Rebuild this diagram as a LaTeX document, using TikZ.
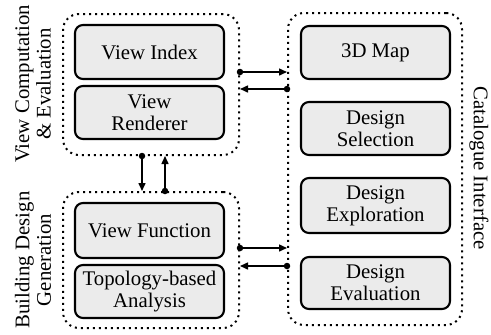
\documentclass[tikz,border=0pt]{standalone}
\usepackage{fontspec}
\setmainfont{Liberation Serif}
\usetikzlibrary{arrows.meta}
\definecolor{boxfill}{HTML}{EBEBEB}
\begin{document}
\begin{tikzpicture}[x=1pt,y=-1pt,
  module/.style={draw=black, line width=2.1pt, fill=boxfill, rounded corners=8pt,
    minimum width=149pt, align=center, inner sep=0pt,
    font=\fontsize{20.8}{22}\selectfont},
  group/.style={draw=black, line width=2pt, dash pattern=on 2pt off 4pt,
    rounded corners=16pt, inner sep=0pt},
  grouplabel/.style={align=center, font=\fontsize{20.8}{21.5}\selectfont},
  link/.style={line width=1.5pt, -{Triangle[length=8pt,width=7pt]}},
  dot/.style={circle, fill=black, inner sep=0pt, minimum size=6.5pt}
]
\useasboundingbox (0,0) rectangle (491,335);

% groups (dotted frames)
\node[group, minimum width=176pt, minimum height=141pt] (gview) at (151,84.5) {};
\node[group, minimum width=176pt, minimum height=136pt] (gbuild) at (151,260) {};
\node[group, minimum width=174pt, minimum height=312pt] (gcat) at (375,169) {};

% modules
\node[module, minimum height=54pt] (vindex) at (149.5,52) {View Index};
\node[module, minimum height=53pt] (vrender) at (149.5,112.5) {View\\Renderer};
\node[module, minimum height=55pt] (vfunc) at (149.5,230.5) {View Function};
\node[module, minimum height=53pt] (topo) at (149.5,291.5) {Topology-based\\Analysis};
\node[module, minimum height=53pt] (map) at (375.5,52.5) {3D Map};
\node[module, minimum height=53pt] (dsel) at (375.5,128.5) {Design\\Selection};
\node[module, minimum height=55pt] (dexp) at (375.5,205.5) {Design\\Exploration};
\node[module, minimum height=52pt] (deval) at (375.5,283) {Design\\Evaluation};

% group labels
\node[grouplabel, rotate=90] (lview) at (33,84) {View Computation\\\& Evaluation};
\node[grouplabel, rotate=90] (lbuild) at (33,260) {Building Design\\Generation};
\node[grouplabel, rotate=-90] (lcat) at (479,168) {Catalogue Interface};

% connectors between groups
\draw[link] ([yshift=12.5pt]gview.east) node[dot]{} -- ([yshift=12.5pt]gview.east -| gcat.west);
\draw[link] ([yshift=-4.5pt]gview.east -| gcat.west) node[dot]{} -- ([yshift=-4.5pt]gview.east);
\draw[link] ([yshift=12pt]gbuild.east) node[dot]{} -- ([yshift=12pt]gbuild.east -| gcat.west);
\draw[link] ([yshift=-6pt]gbuild.east -| gcat.west) node[dot]{} -- ([yshift=-6pt]gbuild.east);
\draw[link] ([xshift=-9pt]gview.south) node[dot]{} -- ([xshift=-9pt]gbuild.north);
\draw[link] ([xshift=14pt]gbuild.north) node[dot]{} -- ([xshift=14pt]gview.south);
\end{tikzpicture}
\end{document}
